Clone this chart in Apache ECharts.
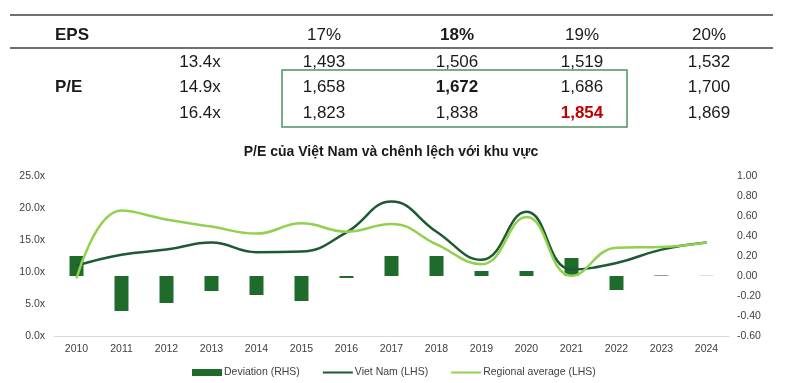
<!DOCTYPE html>
<html><head><meta charset="utf-8">
<script src="https://cdn.jsdelivr.net/npm/echarts@6/dist/echarts.min.js"></script>
<style>html,body{margin:0;padding:0;background:#fff}#c{width:808px;height:383px}</style>
</head><body><div id="c"></div>
<script>
// ---- Table data ----
const epsHeaders = ['17%', '18%', '19%', '20%'];
const peLabels = ['13.4x', '14.9x', '16.4x'];
const tableRows = [
  ['1,493', '1,506', '1,519', '1,532'],
  ['1,658', '1,672', '1,686', '1,700'],
  ['1,823', '1,838', '1,854', '1,869']
];
// ---- Chart data ----
const years = ['2010','2011','2012','2013','2014','2015','2016','2017','2018','2019','2020','2021','2022','2023','2024'];
const deviation = [0.20, -0.35, -0.27, -0.15, -0.19, -0.25, -0.02, 0.20, 0.20, 0.05, 0.05, 0.18, -0.14, 0.01, 0.008];
const vietnam = [11.0, 12.7, 13.5, 14.6, 13.1, 13.2, 16.2, 21.0, 16.3, 11.9, 19.4, 10.4, 11.4, 13.5, 14.6];
const regional = [9.0, 19.6, 18.2, 17.1, 16.0, 17.6, 16.3, 17.5, 14.3, 11.2, 18.6, 9.4, 13.8, 13.9, 14.6];
const leftTicks = {min: 0, max: 25, interval: 5};
const rightTicks = {min: -0.6, max: 1.0, interval: 0.2};

const FONT = '"Liberation Sans", Arial, sans-serif';
const colX = [324, 457, 582, 709];
const rowY = [62, 87, 113];
const g = [];
// table lines
g.push({type:'line', shape:{x1:10,y1:15,x2:773,y2:15}, style:{stroke:'#404040', lineWidth:1.6}});
g.push({type:'line', shape:{x1:10,y1:48,x2:773,y2:48}, style:{stroke:'#404040', lineWidth:1.6}});
// highlight box
g.push({type:'rect', shape:{x:282,y:70,width:345,height:57}, style:{fill:'none', stroke:'#4e9262', lineWidth:1.5}});
function txt(t, x, y, opts) {
  return {type:'text', x:x, y:y, style:Object.assign({text:t, fill:'#1a1a1a', font:'17px ' + FONT, align:'center', verticalAlign:'middle'}, opts||{})};
}
g.push(txt('EPS', 55, 35, {align:'left', font:'bold 17px ' + FONT}));
epsHeaders.forEach((h,i) => g.push(txt(h, colX[i], 35, i===1 ? {font:'bold 17px ' + FONT} : {})));
g.push(txt('P/E', 55, 87, {align:'left', font:'bold 17px ' + FONT}));
peLabels.forEach((p,i) => g.push(txt(p, 200, rowY[i])));
tableRows.forEach((row, r) => row.forEach((v, c) => {
  let o = {};
  if (r===1 && c===1) o = {font:'bold 17px ' + FONT};
  if (r===2 && c===2) o = {font:'bold 17px ' + FONT, fill:'#c00000'};
  g.push(txt(v, colX[c], rowY[r], o));
}));

const barColors = years.map((y,i) => i===13 ? '#8a9f8c' : (i===14 ? '#d9d9d9' : '#1f6b2c'));

const chart = echarts.init(document.getElementById('c'), null, {renderer:'canvas'});
chart.setOption({
  backgroundColor:'#fff',
  animation:false,
  textStyle:{fontFamily:FONT},
  title:{text:'P/E của Việt Nam và chênh lệch với khu vực', left:391, top:145, padding:0, textAlign:'center',
    textStyle:{fontSize:14, fontWeight:'bold', color:'#1a1a1a', fontFamily:FONT}},
  graphic:g,
  legend:{left:192, top:367, padding:0, itemGap:22, itemWidth:30, itemHeight:7,
    textStyle:{fontSize:10.5, color:'#404040', fontFamily:FONT, padding:[0,0,0,-3]},
    data:[{name:'Deviation (RHS)', icon:'rect', itemStyle:{color:'#1f6b2c'}},
      {name:'Viet Nam (LHS)', itemStyle:{opacity:0}},
      {name:'Regional average (LHS)', itemStyle:{opacity:0}}]},
  grid:{left:54, right:79, top:176, bottom:47},
  xAxis:{type:'category', data:years, boundaryGap:true,
    axisLine:{lineStyle:{color:'#d9d9d9', width:1}}, axisTick:{show:false},
    axisLabel:{color:'#404040', fontSize:10.5, margin:8, fontFamily:FONT}},
  yAxis:[
    {type:'value', min:leftTicks.min, max:leftTicks.max, interval:leftTicks.interval,
      axisLine:{show:false}, axisTick:{show:false}, splitLine:{show:false},
      axisLabel:{color:'#404040', fontSize:10.5, margin:9, fontFamily:FONT, formatter:v=>v.toFixed(1)+'x'}},
    {type:'value', min:rightTicks.min, max:rightTicks.max, interval:rightTicks.interval,
      axisLine:{show:false}, axisTick:{show:false}, splitLine:{show:false},
      axisLabel:{color:'#404040', fontSize:10.5, margin:8, fontFamily:FONT, formatter:v=>v.toFixed(2)}}
  ],
  series:[
    {name:'Deviation (RHS)', type:'bar', yAxisIndex:1, barWidth:14,
      data:deviation.map((v,i)=>({value:v, itemStyle:{color:barColors[i]}})), itemStyle:{color:'#1f6b2c'}},
    {name:'Viet Nam (LHS)', type:'line', yAxisIndex:0, data:vietnam, smooth:0.45, symbol:'none',
      lineStyle:{color:'#1d5a33', width:2.5}, itemStyle:{color:'#1d5a33'}},
    {name:'Regional average (LHS)', type:'line', yAxisIndex:0, data:regional, smooth:0.45, symbol:'none',
      lineStyle:{color:'#92d050', width:2.5}, itemStyle:{color:'#92d050'}}
  ]
});
</script></body></html>
